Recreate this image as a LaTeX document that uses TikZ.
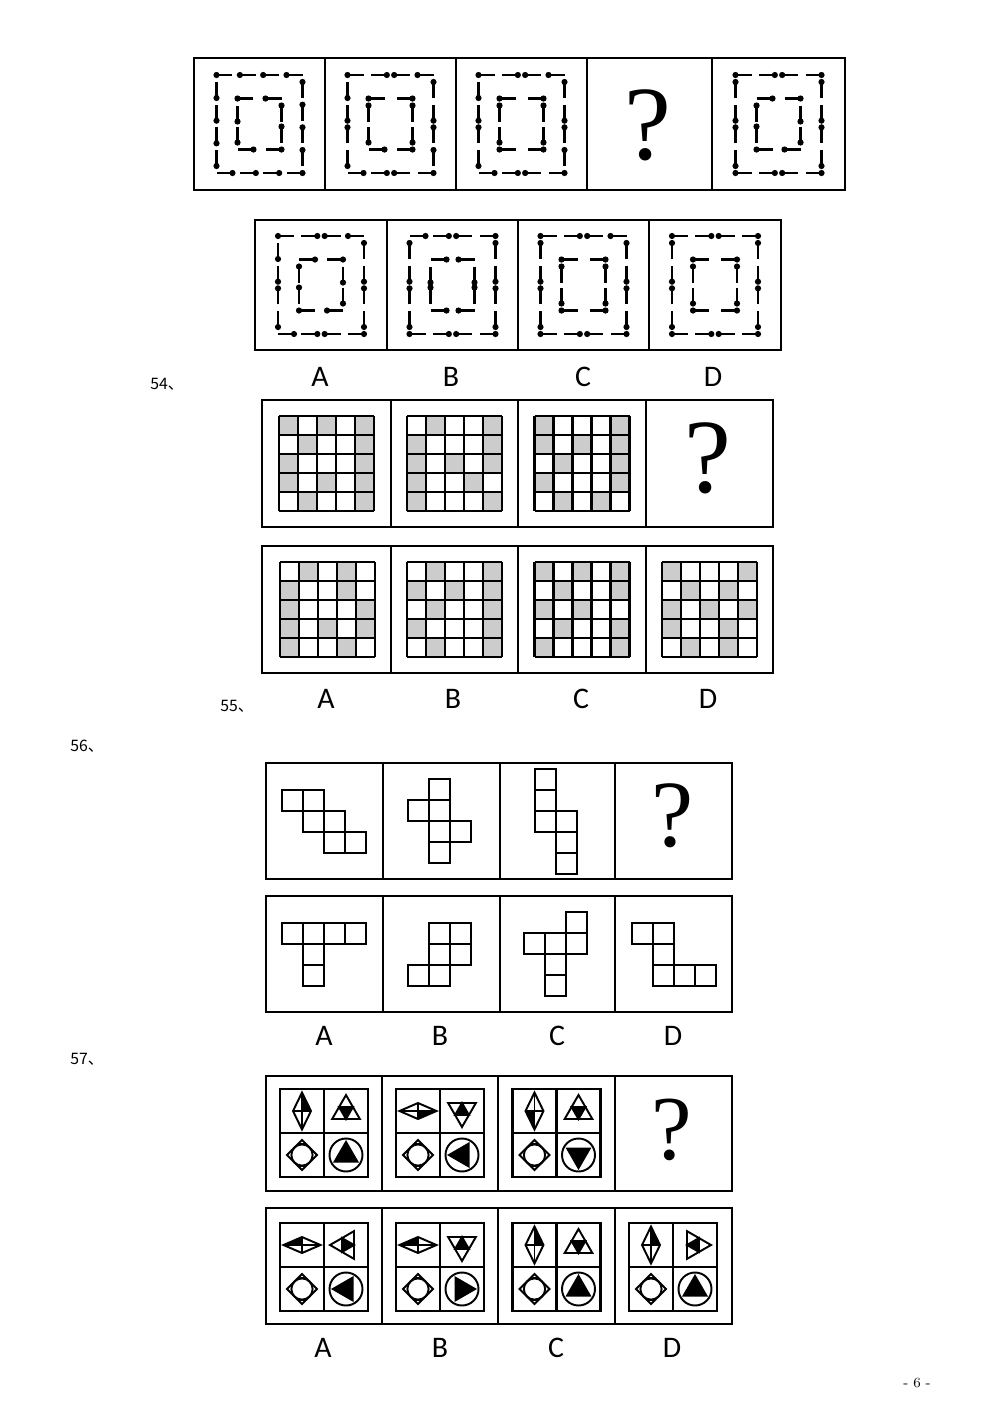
\documentclass[tikz,border=0pt]{standalone}
\usepackage{fontspec}
\newfontfamily\cjk{Noto Sans CJK SC}
\newfontfamily\labfont{Carlito}
\newfontfamily\qfont{Liberation Serif}
\usetikzlibrary{calc}
\tikzset{
  frame/.style={line width=1.3pt},
  stick/.style={line width=1.5pt},
  gridline/.style={line width=1.4pt},
  shaded/.style={fill=black!20},
  cellbox/.style={line width=1.1pt},
  fig/.style={line width=1.1pt},
  qmark/.style={font=\qfont\fontsize{60}{60}\selectfont,inner sep=0pt},
  optlabel/.style={font=\labfont\fontsize{17}{17}\selectfont,inner sep=0pt},
  qnum/.style={font=\cjk\fontsize{9}{9}\selectfont,inner sep=0pt,anchor=west},
}
% one side of a dotted square: (A)->(B), #1 sticks, #2 = dot at start (0) or end (1)
\newcommand{\dside}[2]{%
  \coordinate (Bq) at ($(B)!0.32cm!(A)$);
  \foreach \fl [count=\kk] in {#2}{
    \pgfmathsetmacro\tpos{(\kk-1)/(#1-1)}
    \coordinate (Sa) at ($(A)!\tpos!(Bq)$);
    \coordinate (Sb) at ($(Sa)!0.32cm!(B)$);
    \draw[stick] (Sa) -- (Sb);
    \fill ($(Sa)!\fl!(Sb)$) circle (3.1);
  }}
% cx cy W H n top right bottom left
\newcommand{\dsq}[9]{%
  \coordinate (A) at ({#1-#3/2},{#2-#4/2}); \coordinate (B) at ({#1+#3/2},{#2-#4/2}); \dside{#5}{#6}
  \coordinate (A) at ({#1+#3/2},{#2-#4/2+7}); \coordinate (B) at ({#1+#3/2},{#2+#4/2-7}); \dside{#5}{#7}
  \coordinate (A) at ({#1+#3/2},{#2+#4/2}); \coordinate (B) at ({#1-#3/2},{#2+#4/2}); \dside{#5}{#8}
  \coordinate (A) at ({#1-#3/2},{#2+#4/2-7}); \coordinate (B) at ({#1-#3/2},{#2-#4/2+7}); \dside{#5}{#9}}
% 5x5 grid with shaded cells
\newcommand{\gridfig}[3]{%
  \foreach \rw [count=\jj] in {#3}{
    \foreach \cv [count=\ii] in \rw {
      \ifnum\cv=1 \fill[shaded] ({#1-47.5+(\ii-1)*19},{#2-47.5+(\jj-1)*19}) rectangle ++(19,19);\fi
    }}
  \foreach \kk in {0,...,5}{
    \draw[gridline] ({#1-47.5+\kk*19},{#2-47.5}) -- ++(0,95);
    \draw[gridline] ({#1-47.5},{#2-47.5+\kk*19}) -- ++(95,0);
  }}
% unfolded cube
\newcommand{\cellfig}[3]{%
  \foreach \cc/\rr in {#3} \draw[cellbox] ({#1+\cc*21},{#2+\rr*21}) rectangle ++(21,21);}
% 57 pieces
\newcommand{\rhomb}[6]{%
  \fill (#1,#2) -- ({#1+#5*#3},#2) -- (#1,{#2+#6*#4}) -- cycle;
  \draw[fig] ({#1-#3},#2) -- (#1,{#2-#4}) -- ({#1+#3},#2) -- (#1,{#2+#4}) -- cycle;
  \draw[fig] ({#1-#3},#2) -- ({#1+#3},#2) (#1,{#2-#4}) -- (#1,{#2+#4});}
\newcommand{\sierp}[3]{%
  \begin{scope}[shift={(#1,#2)}]
    \draw[fig] ({#3}:16) -- ({#3+120}:16) -- ({#3+240}:16) -- cycle;
    \filldraw[fig,fill=black] ({#3+60}:8) -- ({#3+180}:8) -- ({#3+300}:8) -- cycle;
  \end{scope}}
\newcommand{\ringdia}[2]{%
  \draw[fig] ({#1-15},#2) -- (#1,{#2-15}) -- ({#1+15},#2) -- (#1,{#2+15}) -- cycle;
  \draw[fig] (#1,#2) circle (10.6);
  \draw[fig] ({#1-4},{#2-11}) -- ({#1+4},{#2-11}) ({#1-4},{#2+11}) -- ({#1+4},{#2+11});}
\newcommand{\circtri}[3]{%
  \draw[fig] (#1,#2) circle (16.5);
  \begin{scope}[shift={(#1,#2)}]
    \fill ({#3}:15) -- ({#3+120}:15) -- ({#3+240}:15) -- cycle;
  \end{scope}}
% cx cy hw hh sx sy triangle circle-triangle
\newcommand{\fourcell}[8]{%
  \draw[frame] ({#1-44},{#2-44}) rectangle ({#1+44},{#2+44});
  \draw[frame] (#1,{#2-44}) -- (#1,{#2+44}) ({#1-44},#2) -- ({#1+44},#2);
  \rhomb{#1-22}{#2-22}{#3}{#4}{#5}{#6}
  \sierp{#1+22}{#2-22}{#7}
  \ringdia{#1-22}{#2+22}
  \circtri{#1+22}{#2+22}{#8}}

\begin{document}
\begin{tikzpicture}[x=0.02cm,y=-0.02cm]
\fill[white] (0,0) rectangle (1000,1414);
\useasboundingbox (0,0) rectangle (1000,1414);

% --- 53
\draw[frame] (194,58) rectangle (845,190);
\foreach \xx in {325,456,587,712} \draw[frame] (\xx,58) -- (\xx,190);
\dsq{259.5}{124}{86}{98}{4}{0,0,0,0}{0,0,0,0}{0,0,0,0}{0,0,0,0}
\dsq{259.5}{124}{44}{51}{2}{0,0}{0,0}{0,0}{0,0}
\dsq{390.5}{124}{86}{98}{4}{0,1,0,0}{0,1,0,0}{0,1,0,0}{0,1,0,0}
\dsq{390.5}{124}{44}{51}{2}{0,1}{0,1}{0,0}{0,1}
\dsq{521.5}{124}{86}{98}{4}{0,1,0,0}{0,1,0,0}{0,1,0,0}{0,1,0,0}
\dsq{521.5}{124}{44}{51}{2}{0,1}{0,1}{0,1}{0,1}
\node[qmark] (q53) at (647.5,125.5) {?};
\dsq{778.5}{124}{86}{98}{4}{0,1,0,1}{0,1,0,1}{0,1,0,1}{0,1,0,1}
\dsq{778.5}{124}{44}{51}{2}{1,1}{1,1}{1,1}{1,1}

\draw[frame] (255,220) rectangle (781,350);
\foreach \xx in {387,518,649} \draw[frame] (\xx,220) -- (\xx,350);
\dsq{321}{285}{86}{98}{4}{0,1,0,0}{0,1,0,1}{0,1,0,0}{0,1,0,0}
\dsq{321}{285}{44}{51}{2}{1,1}{1,1}{1,1}{1,1}
\dsq{452.5}{285}{86}{98}{4}{1,1,0,1}{0,1,0,1}{0,1,0,1}{0,1,0,1}
\dsq{452.5}{285}{44}{51}{2}{1,0}{1,0}{1,0}{1,0}
\dsq{583.5}{285}{86}{98}{4}{0,1,0,0}{0,1,0,1}{0,1,0,1}{0,1,0,1}
\dsq{583.5}{285}{44}{51}{2}{0,1}{0,1}{0,1}{0,1}
\dsq{715}{285}{86}{98}{4}{0,1,0,1}{0,1,0,1}{0,1,0,1}{0,1,0,1}
\dsq{715}{285}{44}{51}{2}{0,1}{0,1}{0,1}{0,1}
\foreach \lt/\xx in {A/320,B/451,C/583,D/713}
  \node[optlabel] (o53\lt) at (\xx,377) {\lt};

% --- 54
\node[qnum] (n54) at (150,384) {54、};
\draw[frame] (262,400) rectangle (773,527);
\draw[frame] (262,546) rectangle (773,673);
\foreach \xx in {391,518,646} \draw[frame] (\xx,400) -- (\xx,527) (\xx,546) -- (\xx,673);
\gridfig{326.5}{463.5}{{1,0,1,0,1},{0,1,0,0,1},{1,0,0,0,1},{1,0,1,0,1},{0,1,0,0,1}}
\gridfig{454.5}{463.5}{{0,1,0,0,1},{1,0,0,0,1},{1,0,1,0,1},{1,0,0,1,0},{1,0,0,0,1}}
\gridfig{582}{463.5}{{1,0,0,0,1},{1,0,1,0,1},{0,1,0,0,1},{1,0,0,0,1},{0,1,0,1,0}}
\node[qmark] (q54) at (708,458) {?};
\gridfig{327.5}{609.5}{{0,1,0,1,0},{1,0,0,1,0},{1,0,0,0,1},{1,0,1,0,1},{1,0,0,1,0}}
\gridfig{454.5}{609.5}{{0,1,0,0,1},{1,0,1,0,1},{0,1,0,0,1},{1,0,0,0,1},{0,1,0,0,1}}
\gridfig{582}{609.5}{{1,0,1,0,1},{0,1,0,0,1},{1,0,1,0,0},{0,1,0,0,1},{1,0,0,0,1}}
\gridfig{709.5}{609.5}{{1,0,0,0,1},{0,1,0,1,0},{1,0,1,0,1},{1,0,0,1,0},{0,1,0,1,0}}
\foreach \lt/\xx in {A/326,B/453,C/581,D/708}
  \node[optlabel] (o54\lt) at (\xx,699) {\lt};
\node[qnum] (n55) at (220,706) {55、};

% --- 56
\node[qnum] (n56) at (70,746) {56、};
\draw[frame] (266,763) rectangle (732,879);
\draw[frame] (266,896) rectangle (732,1012);
\foreach \xx in {383,500,615} \draw[frame] (\xx,763) -- (\xx,879) (\xx,896) -- (\xx,1012);
\cellfig{282}{790}{0/0,1/0,1/1,2/1,2/2,3/2}
\cellfig{408}{779}{1/0,0/1,1/1,1/2,2/2,1/3}
\cellfig{535}{769}{0/0,0/1,0/2,1/2,1/3,1/4}
\node[qmark,font=\qfont\fontsize{54}{54}\selectfont] (q56) at (672.5,816) {?};
\cellfig{282}{923}{0/0,1/0,2/0,3/0,1/1,1/2}
\cellfig{408}{923}{1/0,2/0,1/1,2/1,0/2,1/2}
\cellfig{524}{912}{2/0,0/1,1/1,2/1,1/2,1/3}
\cellfig{632}{923}{0/0,1/0,1/1,1/2,2/2,3/2}
\foreach \lt/\xx in {A/324,B/440,C/557,D/673}
  \node[optlabel] (o56\lt) at (\xx,1036) {\lt};

% --- 57
\node[qnum] (n57) at (70,1059) {57、};
\draw[frame] (266,1076) rectangle (732,1191);
\draw[frame] (266,1208) rectangle (732,1324);
\foreach \xx in {382,498,615} \draw[frame] (\xx,1076) -- (\xx,1191) (\xx,1208) -- (\xx,1324);
\fourcell{324}{1133}{9}{18.5}{1}{-1}{270}{270}
\fourcell{440}{1133}{18.5}{8}{1}{1}{90}{180}
\fourcell{556.5}{1133}{9}{18.5}{-1}{1}{270}{90}
\node[qmark,font=\qfont\fontsize{52}{52}\selectfont] (q57) at (672,1129.5) {?};
\fourcell{324}{1267}{18.5}{8}{-1}{-1}{180}{180}
\fourcell{440}{1267}{18.5}{8}{-1}{-1}{90}{0}
\fourcell{556.5}{1267}{9}{18.5}{1}{-1}{270}{270}
\fourcell{673}{1267}{9}{18.5}{1}{-1}{0}{270}
\foreach \lt/\xx in {A/323,B/440,C/556,D/672}
  \node[optlabel] (o57\lt) at (\xx,1348) {\lt};

\node[font=\fontsize{8}{8}\selectfont] (pg) at (917,1383) {- 6 -};
\end{tikzpicture}
\end{document}
